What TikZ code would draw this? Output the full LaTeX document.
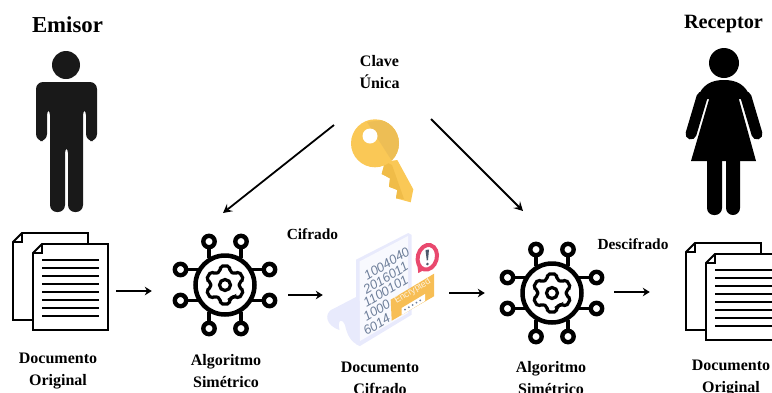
\documentclass[tikz,border=0pt]{standalone}
\usepackage{fontspec}
\setmainfont{Liberation Serif}
\newfontfamily\sansdigits{Liberation Sans}
\usetikzlibrary{arrows.meta}

\definecolor{llave}{HTML}{FAC856}
\definecolor{llavesombra}{HTML}{EDBE55}
\definecolor{llavediente}{HTML}{F0BC48}
\definecolor{hoja}{HTML}{F8F9FE}
\definecolor{hojaborde}{HTML}{E8EAFC}
\definecolor{digito}{HTML}{6E7F9A}
\definecolor{alerta}{HTML}{E9496E}
\definecolor{sello}{HTML}{F7BE55}

\tikzset{
    etiqueta/.style={font=\bfseries\fontsize{16}{22}\selectfont, align=center, inner sep=0pt},
    titulo/.style={font=\bfseries\fontsize{#1}{24}\selectfont, inner sep=0pt},
    ancla/.style={inner sep=0pt, minimum height=100pt, minimum width=#1},
    flecha/.style={line width=1.9pt, -{Stealth[length=7pt,width=8.5pt]}},
    flechadiag/.style={line width=1.8pt, -{Stealth[length=9pt,width=9.5pt,inset=3.5pt]}},
    digitos/.style={font=\sansdigits\itshape\fontsize{13}{13}\selectfont, text=digito, rotate=31, inner sep=0pt},
    pics/documentos/.style={code={
        \draw[line width=1.8pt, fill=white] (9,0) -- (75,0) -- (75,87) -- (0,87) -- (0,9) -- cycle;
        \draw[line width=1.8pt] (9,0) -- (9,9) -- (0,9);
        \draw[line width=1.8pt, fill=white] (29,11) -- (95,11) -- (95,97) -- (20,97) -- (20,20) -- cycle;
        \draw[line width=1.8pt] (29,11) -- (29,20) -- (20,20);
        \foreach \y in {27,35,...,83} {
            \draw[line width=1.8pt] (29,\y) -- (86,\y);
        }
    }},
    pics/algoritmo/.style={code={
        \draw[line width=4.5pt] (0,0) circle (29.5);
        \draw[line width=3.2pt, rounded corners=2pt] (60:14.5)
            \foreach \a in {90,150,...,390} {
                -- (\a-20:14.5) -- (\a-13:19.5) -- (\a+13:19.5) -- (\a+20:14.5)
            } -- cycle;
        \draw[line width=3.2pt] (0,0) circle (5.5);
        \foreach \s in {-1,1} {
            \foreach \t in {-1,1} {
                \draw[line width=3.8pt] (\s*16,\t*27) -- (\s*16,\t*39);
                \draw[line width=3.8pt] (\s*27,\t*15.5) -- (\s*39,\t*15.5);
                \draw[line width=4.4pt, fill=white] (\s*16,\t*43.5) circle (5.7);
                \draw[line width=4.4pt, fill=white] (\s*44.5,\t*15.5) circle (5.7);
            }
        }
    }},
    pics/hombre/.style={code={
        \fill[black!90] (66,65) circle (14);
        \fill[black!90, rounded corners=7pt] (36,82) -- (97,82) -- (97,141) -- (86,141) -- (86,108) -- (83,108)
            -- (83,212) -- (68,212) -- (68,146) -- (65,146) -- (65,212) -- (50,212) -- (50,108)
            -- (47,108) -- (47,141) -- (36,141) -- cycle;
    }},
    pics/mujer/.style={code={
        \fill (724,63) circle (15);
        \fill (697,99) .. controls (702,84) and (712,80) .. (724,80) .. controls (736,80) and (746,84) .. (751,99) -- cycle;
        \draw[line width=11pt, line cap=round] (702,97) -- (691,134);
        \draw[line width=11pt, line cap=round] (746,97) -- (757,134);
        \fill (710,96) -- (738,96) -- (756,161) -- (691,161) -- cycle;
        \fill[rounded corners=7pt] (707,150) -- (722,150) -- (722,215) -- (707,215) -- cycle;
        \fill[rounded corners=7pt] (726,150) -- (740,150) -- (740,215) -- (726,215) -- cycle;
    }},
    pics/llavedorada/.style={code={
        \fill[llave] (397.3,160) -- (413.3,189.3) -- (410.7,202.3) -- (396,198.3) -- (397.3,190) -- (389,186.7) -- (390,178.3) -- (381.7,174) -- (385,161.7) -- cycle;
        \fill[llavediente] (392,165) -- (404,199) -- (396,198.3) -- (397.3,190) -- (389,186.7) -- (390,178.3) -- (381.7,174) -- (385,161.7) -- cycle;
        \fill[llave] (375,143.3) circle (24);
        \begin{scope}
            \clip (375,143.3) circle (24);
            \fill[llavesombra] (367,122) -- (402,118) -- (402,170) -- (392,161) -- cycle;
        \end{scope}
        \fill[white] (370,136) circle (7.5);
    }},
    pics/cifrado/.style={code={
        \fill[hojaborde] (358,296) -- (331,310) .. controls (325,314) and (325,325) .. (339.5,330)
            .. controls (337,318) and (343,319) .. (345,325) .. controls (347,334) and (350,342) .. (360,346) -- cycle;
        \fill[hojaborde] (356,259.7) -- (408.3,233) -- (411.7,235) -- (411.7,314.7) -- (360,346) -- (356,344) -- cycle;
        \fill[hoja] (359.5,261.5) -- (408,236) -- (408,313) -- (360,341) -- cycle;
        \fill[sello] (390.7,299.7) -- (434,273.7) -- (434,296.3) -- (391.7,320.7) -- cycle;
        \fill[white] (401.7,308) -- (425,294) -- (425,301) -- (401.7,315) -- cycle;
        \foreach \i in {0,1,2,3,4} {
            \fill[digito] (405+\i*3.8,309.5-\i*2.3) circle (1);
        }
        \fill[alerta] (418.3,273) -- (417,262) -- (426,269) -- cycle;
        \draw[alerta, line width=4pt, fill=white, shift={(427.3,257.3)}, rotate=-15] (0,0) ellipse (9.5 and 12.5);
        \fill[digito!70!black] (425.5,250) -- (429,249.5) -- (428,260) -- (426.8,260.5) -- cycle;
        \fill[digito!70!black] (427.4,264) circle (1.4);
    }},
}

\begin{document}
\begin{tikzpicture}[x=1pt, y=-1pt]
    \useasboundingbox (0,0) rectangle (772,392);
    \clip (0,0) rectangle (772,392);

    \node[titulo=22.8] (emisor) at (67.5,25) {Emisor};
    \node[titulo=20.3] (receptor) at (723.5,24) {Receptor};
    \node[etiqueta] (clave) at (379.5,72) {Clave\\Única};
    \node[etiqueta, font=\bfseries\fontsize{15.4}{22}\selectfont] (cifrado) at (312.5,234) {Cifrado};
    \node[etiqueta, font=\bfseries\fontsize{15.4}{22}\selectfont] (descifrado) at (633,244) {Descifrado};

    \pic at (0,0) {hombre};
    \pic at (0,0) {mujer};
    \pic at (0,0) {llavedorada};
    \pic at (13,233) {documentos};
    \pic at (686,243) {documentos};
    \pic at (225,285) {algoritmo};
    \pic at (552,293) {algoritmo};
    \pic at (0,0) {cifrado};

    \node[digitos] (linea1) at (386.7,263.7) {1004040};
    \node[digitos] (linea2) at (385.7,278) {2016011};
    \node[digitos] (linea3) at (385.7,291.3) {1100101};
    \node[digitos] (linea4) at (376.7,310.3) {1000};
    \node[digitos] (linea5) at (376.7,324.7) {6014};
    \node[rotate=31, text=white!80!sello, font=\sansdigits\fontsize{9}{9}\selectfont, inner sep=0pt] (sello) at (412.7,291.3) {Encrypted};

    % anclas de las flechas
    \node[ancla=111pt] (docemisor) at (60.5,291) {};
    \node[ancla=136pt] (algocifrado) at (220,295) {};
    \node[ancla=126pt] (doccifrado) at (386,293) {};
    \node[ancla=129pt] (algodescifrado) at (549.5,292) {};
    \node[ancla=100pt] (docreceptor) at (700,292) {};

    \node[etiqueta] (nombre1) at (58,371) {Documento\\Original};
    \node[etiqueta] (nombre2) at (226,371) {Algoritmo\\Simétrico};
    \node[etiqueta] (nombre3) at (380,378) {Documento\\Cifrado};
    \node[etiqueta] (nombre4) at (551,378) {Algoritmo\\Simétrico};
    \node[etiqueta] (nombre5) at (731,378) {Documento\\Original};

    \draw[flecha] (docemisor.east) -- (docemisor.east -| algocifrado.west);
    \draw[flecha] (algocifrado.east) -- (algocifrado.east -| doccifrado.west);
    \draw[flecha] (doccifrado.east) -- (doccifrado.east -| algodescifrado.west);
    \draw[flecha] (algodescifrado.east) -- (algodescifrado.east -| docreceptor.west);

    \coordinate (claveizq) at (334,125);
    \coordinate (claveder) at (431,119);
    \coordinate (entradaizq) at (223,213);
    \coordinate (entradader) at (523,211);
    \draw[flechadiag] (claveizq) -- (entradaizq);
    \draw[flechadiag] (claveder) -- (entradader);
\end{tikzpicture}
\end{document}
